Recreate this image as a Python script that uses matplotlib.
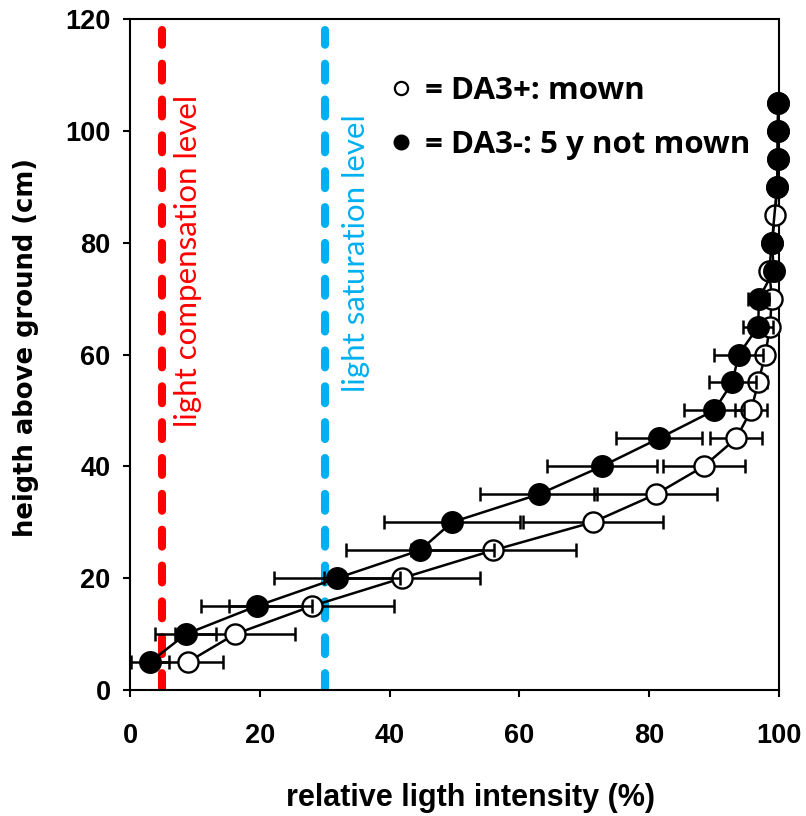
import numpy as np
import matplotlib
matplotlib.use("Agg")
import matplotlib.pyplot as plt
from matplotlib.lines import Line2D

# Height above ground (cm)
heights = [5, 10, 15, 20, 25, 30, 35, 40, 45, 50, 55, 60, 65, 70, 75, 80, 85, 90, 95, 100, 105]

# DA3+: mown - relative light intensity (%) and error
mown = [8.9, 16.2, 28.0, 41.9, 56.0, 71.3, 81.0, 88.4, 93.4, 95.7, 96.8, 97.9,
        98.6, 98.9, 98.5, 98.9, 99.4, 99.7, 99.8, 99.8, 99.9]
mown_err = [5.5, 9.2, 12.7, 12.0, 12.7, 10.8, 9.5, 6.3, 4.0, 2.5, 1.3, 1.2,
            0.9, 0.6, 0.5, 0.4, 0.3, 0.2, 0.2, 0.2, 0.2]

# DA3-: 5 y not mown (no reading at 85 cm)
heights_nm = [5, 10, 15, 20, 25, 30, 35, 40, 45, 50, 55, 60, 65, 70, 75, 80, 90, 95, 100, 105]
not_mown = [3.1, 8.6, 19.5, 31.9, 44.7, 49.6, 63.0, 72.7, 81.5, 90.0, 92.8, 93.8,
            96.8, 96.9, 99.2, 98.9, 99.7, 99.8, 99.8, 99.9]
not_mown_err = [2.9, 4.7, 8.6, 9.7, 11.4, 10.5, 9.0, 8.5, 6.6, 4.6, 3.6, 3.8,
                2.3, 1.6, 0.5, 0.8, 0.2, 0.2, 0.2, 0.2]

# reference levels (% light)
compensation_level = 5
saturation_level = 30
level_top = 118

fig = plt.figure(figsize=(8.06, 8.16), dpi=100)
ax = fig.add_axes([0.1613, 0.1544, 0.8052, 0.8223])

# dashed reference lines
dash_kw = dict(linewidth=5.8, dashes=(2.1, 2.35), dash_capstyle="round", zorder=1)
ax.plot([compensation_level] * 2, [0, level_top], color="#FF0000", **dash_kw)
ax.plot([saturation_level] * 2, [0, level_top], color="#00B0F0", **dash_kw)

ax.text(compensation_level + 4.0, 47, "light compensation level", rotation=90,
        ha="center", va="bottom", color="#FF0000", fontsize=22.5, family="Lato")
ax.text(saturation_level + 4.8, 53.3, "light saturation level", rotation=90,
        ha="center", va="bottom", color="#00B0F0", fontsize=22.5, family="Lato")

# mown series (open circles)
ax.errorbar(mown, heights, xerr=mown_err, fmt="none", ecolor="black",
            elinewidth=1.8, capsize=5, capthick=1.8, zorder=2)
ax.plot(mown, heights, color="black", linewidth=1.8, marker="o", markersize=14.5,
        markerfacecolor="white", markeredgecolor="black", markeredgewidth=1.7,
        zorder=3, clip_on=False)

# not mown series (filled circles)
ax.errorbar(not_mown, heights_nm, xerr=not_mown_err, fmt="none", ecolor="black",
            elinewidth=1.8, capsize=5, capthick=1.8, zorder=4)
ax.plot(not_mown, heights_nm, color="black", linewidth=1.8, marker="o", markersize=15.5,
        markerfacecolor="black", markeredgecolor="black", zorder=5, clip_on=False)

ax.set_xlim(0, 100)
ax.set_ylim(0, 120)
ax.set_xticks(np.arange(0, 101, 20))
ax.set_yticks(np.arange(0, 121, 20))
for s in ax.spines.values():
    s.set_linewidth(1.5)
ax.tick_params(direction="out", length=5, width=1.5)
ax.tick_params(axis="x", pad=19)
ax.tick_params(axis="y", pad=9)
for lab in ax.get_xticklabels() + ax.get_yticklabels():
    lab.set_fontfamily("Liberation Sans")
    lab.set_fontweight("bold")
    lab.set_fontsize(19.5)

ax.set_xlabel("relative ligth intensity (%)", family="Liberation Sans",
              fontweight="bold", fontsize=22)
ax.xaxis.set_label_coords(0.525, -0.138)
ax.set_ylabel("heigth above ground (cm)", family="DejaVu Sans",
              fontweight="bold", fontsize=18.6)
ax.yaxis.set_label_coords(-0.14, 0.51)

handles = [
    Line2D([], [], marker="o", linestyle="none", markersize=9.5, markerfacecolor="white",
           markeredgecolor="black", markeredgewidth=1.6),
    Line2D([], [], marker="o", linestyle="none", markersize=10.5, markerfacecolor="black",
           markeredgecolor="black"),
]
ax.legend(handles, ["= DA3+: mown", "= DA3-: 5 y not mown"], loc="upper left",
          bbox_to_anchor=(0.36, 0.957), frameon=False, handlelength=0.6,
          handletextpad=0.45, labelspacing=0.78,
          prop={"family": "Open Sans", "weight": "bold", "size": 22.5})

fig.savefig("out.png", dpi=100)
